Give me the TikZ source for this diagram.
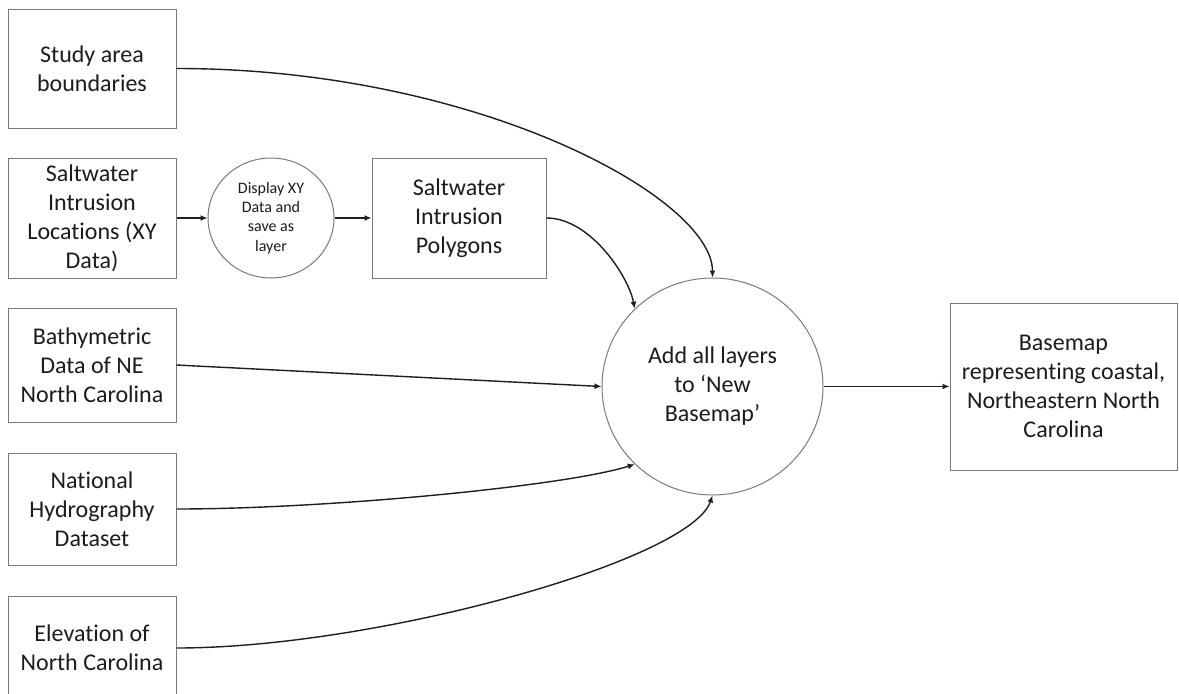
\documentclass[tikz,border=0pt]{standalone}
\usepackage{fontspec}
\setmainfont{Carlito}[Ligatures=NoCommon]
\usetikzlibrary{arrows.meta,shapes.geometric}
\definecolor{txt}{HTML}{1C1C1C}
\definecolor{bord}{HTML}{7A7A7A}
\definecolor{conn}{HTML}{1E1E1E}
\begin{document}
\begin{tikzpicture}[x=1pt,y=-1pt,
  box/.style={draw=bord, line width=1pt, rectangle, inner sep=2pt, align=center, text=txt, font=\fontsize{24}{29}\selectfont},
  proc/.style={draw=bord, line width=1pt, ellipse, inner sep=0pt, align=center, text=txt},
  conn/.style={draw=conn, line width=1.4pt, -{Latex[length=7pt,width=6pt]}}]
\useasboundingbox[fill=white] (0,0) rectangle (1179,694);
\node[box, minimum width=168pt, minimum height=119pt] (study) at (92,68.5) {Study area\\boundaries};
\node[box, minimum width=168pt, minimum height=120pt] (salt) at (92,218) {Saltwater\\Intrusion\\Locations (XY\\Data)};
\node[proc, minimum width=126pt, minimum height=120pt, font=\fontsize{16}{19.3}\selectfont] (disp) at (271,218) {Display XY\\Data and\\save as\\layer};
\node[box, minimum width=174pt, minimum height=120pt] (poly) at (459,218) {Saltwater\\Intrusion\\Polygons};
\node[box, minimum width=168pt, minimum height=114pt] (bathy) at (92,365) {Bathymetric\\Data of NE\\North Carolina};
\node[box, minimum width=168pt, minimum height=112pt] (nhd) at (92,509) {National\\Hydrography\\Dataset};
\node[box, minimum width=168pt, minimum height=104pt] (elev) at (92,648) {Elevation of\\North Carolina};
\node[proc, minimum width=221pt, minimum height=217pt, font=\fontsize{24}{29}\selectfont] (big) at (712.5,386.5) {Add all layers\\to ‘New\\Basemap’};
\node[box, minimum width=227pt, minimum height=167pt] (basemap) at (1063.5,386.5) {Basemap\\representing coastal,\\Northeastern North\\Carolina};
\draw[conn] (study.east) .. controls +(300,0) and +(0,-80) .. (big.north);
\draw[conn] (salt.east) -- (disp.west);
\draw[conn] (disp.east) -- (poly.west);
\draw[conn] (poly.east) .. controls +(44,0) and +(-6,-32) .. (big.135);
\draw[conn] (bathy.east) -- (big.west);
\draw[conn] (nhd.east) .. controls +(150,0) and +(-70,22) .. (big.225);
\draw[conn] (elev.east) .. controls +(200,0) and +(-22,65) .. (big.south);
\draw[conn] (big.east) -- (basemap.west);
\end{tikzpicture}
\end{document}
